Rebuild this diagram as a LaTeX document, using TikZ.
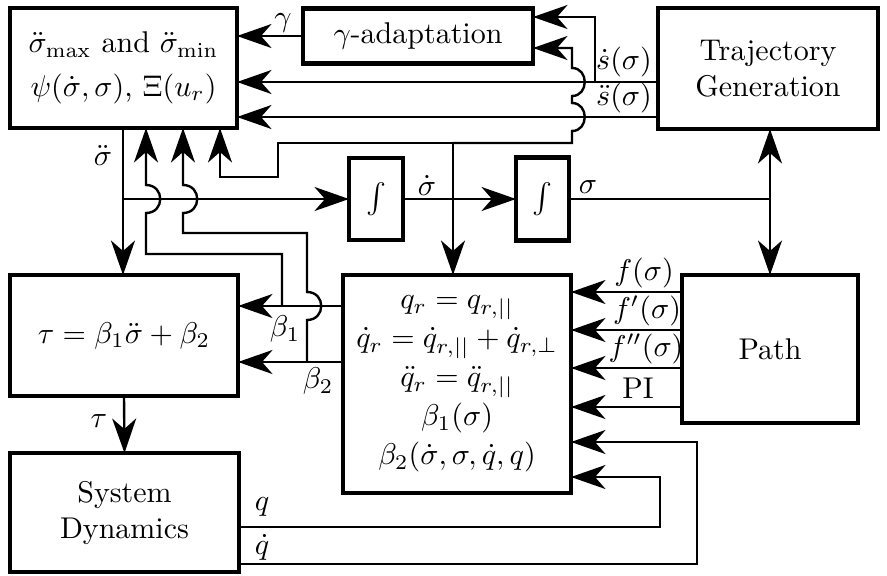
\documentclass[tikz,border=0pt]{standalone}
\usetikzlibrary{arrows.meta}
\begin{document}
\begin{tikzpicture}[x=0.33333pt, y=-0.33333pt,
  box/.style={draw, line width=1.6pt, inner sep=0pt, outer sep=0pt, align=center},
  arr/.style={line width=0.8pt, -{Stealth[length=11.5pt, width=8pt, inset=3.5pt]}},
  ln/.style={line width=0.8pt},
  lbl/.style={inner sep=0pt}]
\useasboundingbox (0,0) rectangle (887,575);

% blocks
\node[box, minimum width=75.67pt, minimum height=40pt] (A) at (123.5,68)
  {$\ddot\sigma_{\max}$ and $\ddot\sigma_{\min}$\\[2.5pt]$\psi(\dot\sigma,\sigma)$, $\Xi(u_r)$};
\node[box, minimum width=76.67pt, minimum height=18.33pt] (G) at (418,36) {$\gamma$-adaptation};
\node[box, minimum width=73.33pt, minimum height=40.33pt] (T) at (768,68.5) {Trajectory\\Generation};
\node[box, minimum width=18pt, minimum height=27.33pt] (I1) at (376,199) {$\int$};
\node[box, minimum width=17.67pt, minimum height=27.67pt] (I2) at (542.5,199) {$\int$};
\node[box, minimum width=76pt, minimum height=40.33pt] (B) at (124,335.5) {$\tau = \beta_1\ddot\sigma + \beta_2$};
\node[box, minimum width=76pt, minimum height=72.67pt] (M) at (457,384)
  {$q_r = q_{r,||}$\\[1pt]$\dot q_r = \dot q_{r,||} + \dot q_{r,\perp}$\\[1pt]$\ddot q_r = \ddot q_{r,||}$\\[1pt]$\beta_1(\sigma)$\\[1pt]$\beta_2(\dot\sigma,\sigma,\dot q,q)$};
\node[box, minimum width=58.67pt, minimum height=49.33pt] (P) at (770,349) {Path};
\node[box, minimum width=76.33pt, minimum height=39.67pt] (C) at (124.5,512.5) {System\\Dynamics};

% junction coordinates
\coordinate (sdb) at (595,82);
\coordinate (sdj) at (453,199);
\coordinate (sdt) at (453,143);
\coordinate (sdd) at (123,199);
\coordinate (sj) at (770,199);
\coordinate (b1j) at (282,306);
\coordinate (b2j) at (307,362);

% gamma
\draw[arr] (G.west) -- (A.east |- G.west);
% s dot, s ddot
\draw[arr] (T.west |- 0,82) -- (A.east |- 0,82);
\draw[arr] (T.west |- 0,117) -- (A.east |- 0,117);
\draw[arr] (sdb) -- (595,17) -- (G.east |- 0,17);

% sigma dot loop
\draw[arr] (sdt) -- (sdt |- M.north);
\draw[arr] (sdt) -- (278,143) -- (278,177) -- (220,177) -- (A.south -| 220,0);
\draw[arr] (sdt) -- (572,143) -- (572,131)
  .. controls (589,131) and (589,103) .. (572,103) -- (572,96)
  .. controls (589,96) and (589,68) .. (572,68) -- (572,48) -- (G.east |- 0,48);

% sigma ddot
\draw[arr] (A.south -| sdd) -- (B.north -| sdd);
\draw[arr] (sdd) -- (I1.west);
% integrators
\draw[arr] (I1.east) -- (I2.west);
\draw[ln] (I2.east) -- (sj);
\draw[arr] (sj) -- (T.south -| sj);
\draw[arr] (sj) -- (P.north -| sj);

% beta1
\draw[arr] (M.west |- b1j) -- (B.east |- b1j);
\draw[arr] (b1j) -- (282,254) -- (146,254) -- (146,213)
  .. controls (165,213) and (165,185) .. (146,185) -- (A.south -| 146,0);
% beta2
\draw[arr] (M.west |- b2j) -- (B.east |- b2j);
\draw[arr] (b2j) -- (307,320) .. controls (326,320) and (326,292) .. (307,292)
  -- (307,233) -- (183,233) -- (183,213)
  .. controls (202,213) and (202,185) .. (183,185) -- (A.south -| 183,0);

% path outputs
\draw[arr] (P.west |- 0,292) -- (M.east |- 0,292);
\draw[arr] (P.west |- 0,330) -- (M.east |- 0,330);
\draw[arr] (P.west |- 0,368) -- (M.east |- 0,368);
\draw[arr] (P.west |- 0,407) -- (M.east |- 0,407);

% tau
\draw[arr] (B.south) -- (C.north);
% q, q dot
\draw[arr] (C.east |- 0,527) -- (660,527) -- (660,477) -- (M.east |- 0,477);
\draw[arr] (C.east |- 0,564) -- (697,564) -- (697,442) -- (M.east |- 0,442);

% labels
\node[lbl] (lg) at (283,23) {$\gamma$};
\node[lbl] (lsd) at (624,62) {$\dot s(\sigma)$};
\node[lbl] (lsdd) at (624,98) {$\ddot s(\sigma)$};
\node[lbl] (lsig2) at (103,155) {$\ddot\sigma$};
\node[lbl] (lsig1) at (427,185) {$\dot\sigma$};
\node[lbl] (lsig0) at (588,187) {$\sigma$};
\node[lbl] (lb1) at (285,329) {$\beta_1$};
\node[lbl] (lb2) at (318,381) {$\beta_2$};
\node[lbl] (lf0) at (644,273) {$f(\sigma)$};
\node[lbl] (lf1) at (647,311) {$f'(\sigma)$};
\node[lbl] (lf2) at (646,349) {$f''(\sigma)$};
\node[lbl] (lpi) at (638,388) {PI};
\node[lbl] (ltau) at (99,421) {$\tau$};
\node[lbl] (lq) at (262,507) {$q$};
\node[lbl] (lqd) at (262,547) {$\dot q$};
\end{tikzpicture}
\end{document}
